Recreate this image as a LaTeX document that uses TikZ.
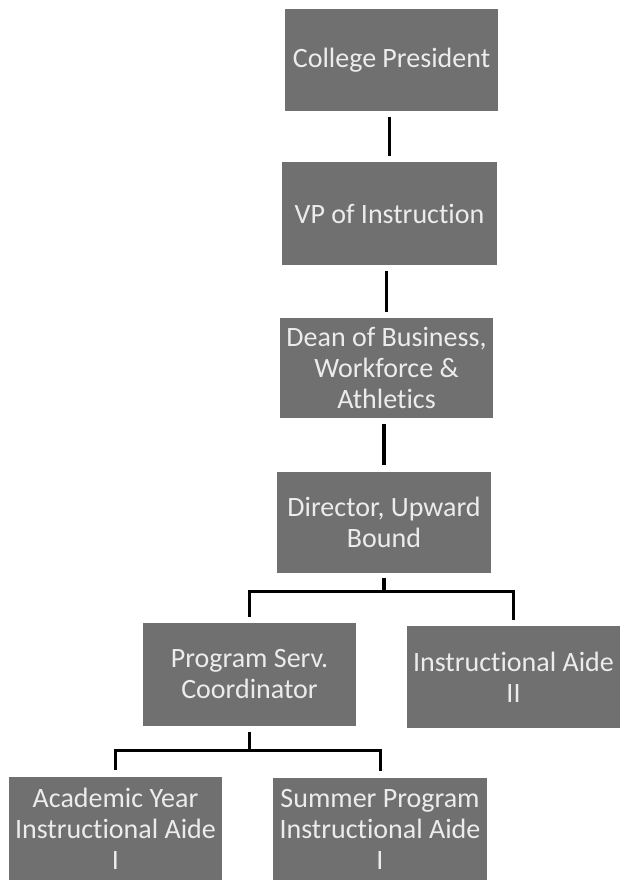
\documentclass[tikz,border=0pt]{standalone}
\usepackage{fontspec}
\setmainfont{Carlito}[RawFeature=-liga]
\definecolor{boxfill}{RGB}{112,112,112}
\definecolor{boxtext}{RGB}{236,236,236}
\begin{document}
\begin{tikzpicture}[x=1pt,y=1pt,
  role/.style={draw=none,fill=boxfill,text=boxtext,minimum width=213pt,minimum height=102pt,
    text width=211pt,align=flush center,inner sep=1pt,font=\fontsize{28}{31}\selectfont},
  conn/.style={draw=black,line width=3.5pt},
  hconn/.style={draw=black,line width=3pt}]
\useasboundingbox (0,0) rectangle (621,880);
\fill[white] (0,0) rectangle (621,880);
\node[role] (b1) at (391.5,820) {College President};
\node[role,minimum width=215pt,minimum height=103pt] (b2) at (389.5,666.5) {VP of Instruction};
\node[role,minimum height=100pt] (b3) at (386.5,512) {Dean of Business,\\Workforce \&\\Athletics};
\node[role,minimum width=214pt,minimum height=101pt] (b4) at (384,357.5) {Director, Upward\\Bound};
\node[role,minimum height=103pt] (b5) at (249.5,205.5) {Program Serv.\\Coordinator};
\node[role] (b6) at (513.5,203) {Instructional Aide\\II};
\node[role,minimum height=103pt] (b7) at (115.5,51.5) {Academic Year\\Instructional Aide\\I};
\node[role,minimum width=214pt] (b8) at (380,51) {Summer Program\\Instructional Aide\\I};
\coordinate (j1) at (0,288);
\coordinate (j2) at (0,129);
\draw[conn,shorten <=6pt,shorten >=6pt] (b1.south -| b2.north) -- (b2.north);
\draw[conn,shorten <=6pt,shorten >=6pt] (b2.south -| b3.north) -- (b3.north);
\draw[conn,shorten <=6pt,shorten >=7pt] (b3.south -| b4.north) -- (b4.north);
\draw[conn,shorten <=5pt] (b4.south) -- (b4.south |- j1);
\draw[hconn,line join=miter] ([yshift=6pt]b5.north) -- (b5.north |- j1) -- (b6.north |- j1) -- ([yshift=6pt]b6.north);
\draw[conn,shorten <=6pt] (b5.south) -- (b5.south |- j2);
\draw[hconn,line join=miter] ([yshift=7pt]b7.north) -- (b7.north |- j2) -- (b8.north |- j2) -- ([yshift=7pt]b8.north);
\end{tikzpicture}
\end{document}
